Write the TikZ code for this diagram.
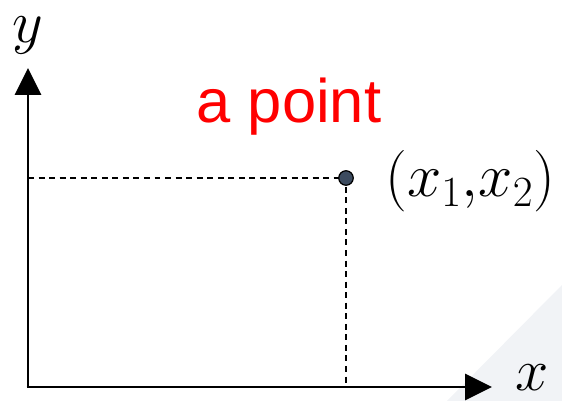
\RequirePackage{fix-cm}
\documentclass[tikz,border=0pt]{standalone}
\usepackage{fontspec}
\newfontfamily\labelfont{Liberation Sans}
\usetikzlibrary{arrows.meta}
\definecolor{dotfill}{RGB}{60,75,95}
\definecolor{cornergray}{RGB}{241,243,246}
\tikzset{
  axis/.style={line width=1.7pt,-{Triangle[length=0.54cm,width=0.52cm]}},
  guide/.style={line width=0.85pt,dash pattern=on 3.4pt off 2.6pt},
  dot/.style={circle,draw=black,line width=0.7pt,fill=dotfill,minimum size=0.29cm,inner sep=0pt}
}
\begin{document}
\begin{tikzpicture}[x=0.02cm,y=-0.02cm]
  \useasboundingbox (0,0) rectangle (562,401);
  \fill[cornergray] (447,401) -- (562,285) -- (562,401) -- cycle;
  % axes
  \coordinate (O) at (28,387);
  \coordinate (ytip) at (28,68);
  \coordinate (xtip) at (492,387);
  \draw[axis] ([xshift=-0.8pt]O) -- (xtip);
  \draw[axis] (O) -- (ytip);
  \node[inner sep=0pt] (ylab) at (28,35) {\fontsize{34}{40}\selectfont$y$};
  \node[inner sep=0pt] (xlab) at (532,378) {\fontsize{34}{40}\selectfont$x$};
  % the point
  \coordinate (P) at (346,178);
  \draw[guide] (O |- P) -- (P) -- (P |- O);
  \node[dot] (pt) at (P) {};
  \node[anchor=base,text=red,inner sep=0pt] (name) at (289,123) {\labelfont\fontsize{35}{42}\selectfont a point};
  \node[anchor=base west,inner sep=0pt] (coords) at (385,197) {\fontsize{35}{42}\selectfont$(x_1{,}x_2)$};
\end{tikzpicture}
\end{document}
